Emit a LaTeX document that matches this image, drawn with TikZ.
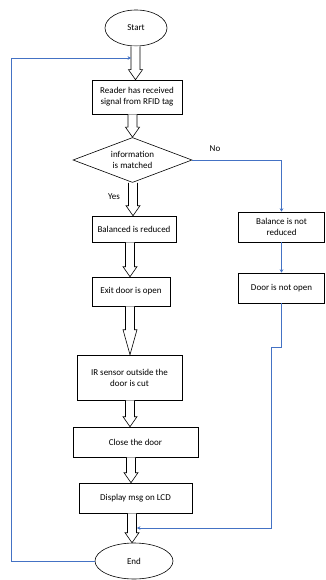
\documentclass[tikz,border=0pt]{standalone}
\usepackage{fontspec}
\setmainfont{Carlito}
\usepackage{tikz}
\usetikzlibrary{calc,shapes.geometric,positioning}
\usetikzlibrary{arrows.meta}
\definecolor{wordblue}{RGB}{68,114,196}
\tikzset{>={Stealth[width=1.3mm,length=1.2mm]}}

% hollow block arrow: [head length]{from}{to}{x}
\newcommand{\harrow}[4][10]{%
  \draw[harrowline] let \p1=(#2.south), \p2=(#3.north) in
    ({#4pt-4.5pt},\y1) -- ({#4pt-4.5pt},\y2+#1pt) -- ({#4pt-7pt},\y2+#1pt)
    -- (#4pt,\y2) -- ({#4pt+7pt},\y2+#1pt) -- ({#4pt+4.5pt},\y2+#1pt)
    -- ({#4pt+4.5pt},\y1);}

\begin{document}
\begin{tikzpicture}[x=1pt,y=-1pt,font=\fontsize{9}{11}\selectfont]
  \useasboundingbox (0,0) rectangle (325,580);

  \tikzstyle{enode} = [draw=black, line width=0.6pt, ellipse, inner sep=0pt, align=center]
  \tikzstyle{pbox} = [draw=black, line width=0.6pt, rectangle, inner sep=2pt, align=center]
  \tikzstyle{dnode} = [draw=black, line width=0.6pt, diamond, aspect=2.64, inner sep=0pt, align=center]
  \tikzstyle{harrowline} = [draw=black, line width=0.6pt, fill=white]
  \tikzstyle{bline} = [draw=wordblue, line width=0.6pt]

  \node[enode, minimum width=62, minimum height=36] (start) at (136,28) {Start};
  \node[pbox, minimum width=90, minimum height=34] (reader) at (137,97) {Reader has received\\signal from RFID tag};
  \node[dnode, minimum width=119, minimum height=45] (match) at (132.5,160) {information\\is matched};
  \node[pbox, minimum width=84, minimum height=26] (bal) at (134,229) {Balanced is reduced};
  \node[pbox, minimum width=78, minimum height=29] (exit) at (131,291.5) {Exit door is open};
  \node[pbox, minimum width=105, minimum height=45] (ir) at (129.5,377.5) {IR sensor outside the\\door is cut};
  \node[pbox, minimum width=125, minimum height=30] (close) at (135.5,442) {Close the door};
  \node[pbox, minimum width=113, minimum height=30] (disp) at (135.5,498) {Display msg on LCD};
  \node[enode, minimum width=78, minimum height=36] (stop) at (134,561) {End};

  \node[pbox, minimum width=86, minimum height=30] (nobal) at (281.5,227) {Balance is not\\reduced};
  \node[pbox, minimum width=86, minimum height=30] (nodoor) at (281.5,288) {Door is not open};

  \node (yes) at (114,197) {Yes};
  \node (no) at (215,149) {No};

  \coordinate (back) at (131,58);
  \coordinate (join) at (137,528);

  % main path
  \harrow{start}{reader}{135.5}
  \harrow{reader}{match}{132.5}
  \harrow{match}{bal}{133}
  \harrow{bal}{exit}{130}
  \harrow[25]{exit}{ir}{130}
  \harrow{ir}{close}{130}
  \harrow{close}{disp}{131}
  \harrow{disp}{stop}{132}

  % no branch
  \draw[bline,->] (match.east) -| (nobal.north);
  \draw[bline,->] (nobal.south) -- (nodoor.north);
  \draw[bline,->] (nodoor.south) -- ++(0,44) -- ++(-10,0) |- (join);

  % loop back
  \draw[bline,->] (stop.west) -- (11,561) |- (back);

\end{tikzpicture}
\end{document}
